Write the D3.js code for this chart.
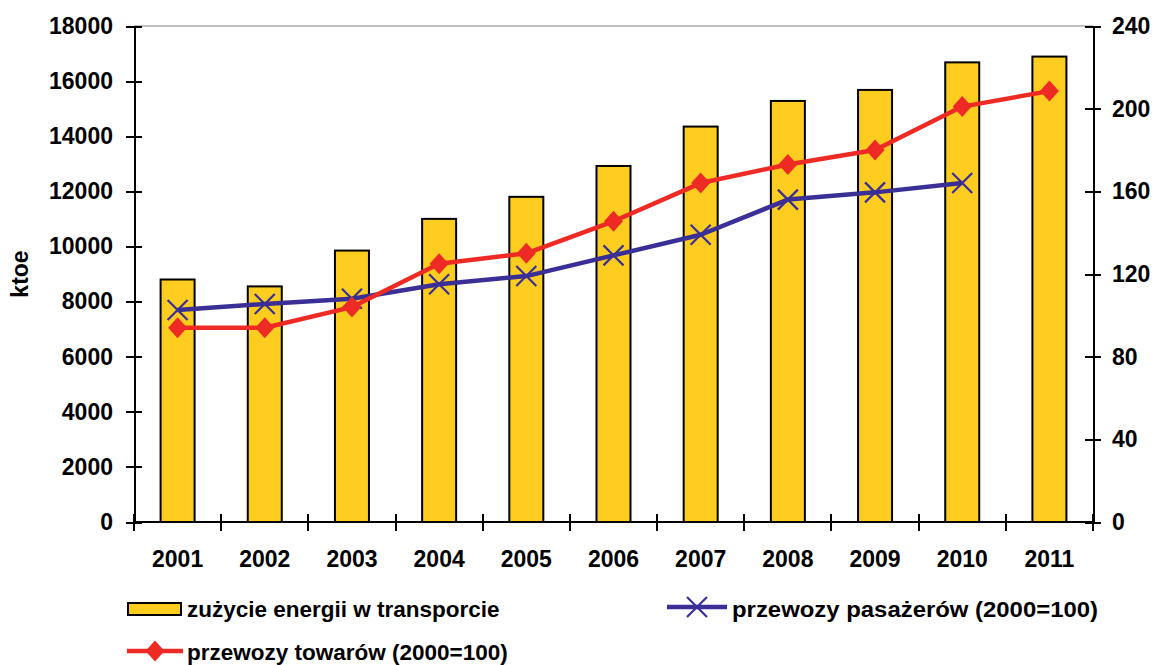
<!DOCTYPE html>
<html>
<head>
<meta charset="utf-8">
<script src="https://cdn.jsdelivr.net/npm/d3@7"></script>
<style>
  html, body { margin: 0; padding: 0; background: #fff; }
  svg { display: block; font-family: Arial, "Liberation Sans", Helvetica, sans-serif; font-weight: bold; }
  .axis path, .axis line { stroke: #000; stroke-width: 2; shape-rendering: crispEdges; }
  .axis text { fill: #000; font-size: 23px; font-weight: bold; }
</style>
</head>
<body>
<svg id="chart" width="1156" height="665"></svg>
<script>
// Years on the category axis
const years = ["2001","2002","2003","2004","2005","2006","2007","2008","2009","2010","2011"];
// Energy use in transport, ktoe (bars, left axis)
const energyUse = [8800, 8550, 9850, 11000, 11800, 12920, 14350, 15280, 15680, 16680, 16890];
// Passenger transport index, 2000 = 100 (right axis; no value for 2011)
const passengerIndex = [102.6, 105.5, 108, 115, 119, 129, 139, 156, 159.5, 164];
// Freight transport index, 2000 = 100 (right axis)
const freightIndex = [94, 94, 104, 125, 130, 145.5, 164, 173, 180, 201, 208.5];
// Tick values for both value axes
const leftTicks = [0, 2000, 4000, 6000, 8000, 10000, 12000, 14000, 16000, 18000];
const rightTicks = [0, 40, 80, 120, 160, 200, 240];

const legendLabels = {
  energy: "zużycie energii w transporcie",
  passengers: "przewozy pasażerów (2000=100)",
  freight: "przewozy towarów (2000=100)"
};
const yAxisTitle = "ktoe";

const colors = { bar: "#FFCD1F", freight: "#EE2A25", passengers: "#3A2F96" };

const svg = d3.select("#chart");
const plot = { left: 134, right: 1093, top: 26, bottom: 522 };

const x = d3.scaleBand()
  .domain(years)
  .range([plot.left, plot.right])
  .paddingInner(0.61)
  .paddingOuter(0.305);
const step = x.step();
const cx = d => x(d) + x.bandwidth() / 2;

const yL = d3.scaleLinear().domain([0, 18000]).range([plot.bottom, plot.top]);
const yR = d3.scaleLinear().domain([0, 240]).range([plot.bottom, plot.top]);

// plot-area frame top edge
svg.append("line")
  .attr("x1", plot.left).attr("x2", plot.right)
  .attr("y1", plot.top).attr("y2", plot.top)
  .attr("stroke", "#c0c0c0").attr("stroke-width", 2);

// bars
svg.append("g").selectAll("rect")
  .data(years.map((y, i) => ({ year: y, v: energyUse[i] })))
  .join("rect")
  .attr("x", d => x(d.year))
  .attr("width", x.bandwidth())
  .attr("y", d => yL(d.v))
  .attr("height", d => yL(0) - yL(d.v))
  .attr("fill", colors.bar)
  .attr("stroke", "#000")
  .attr("stroke-width", 2);

// left axis
const gL = svg.append("g").attr("class", "axis")
  .attr("transform", `translate(${plot.left},0)`)
  .call(d3.axisLeft(yL).tickValues(leftTicks).tickFormat(d3.format("d")).tickSizeOuter(0));
gL.selectAll(".tick line").attr("x1", -8).attr("x2", 8);
gL.selectAll(".tick text").attr("x", -21);

// right axis
const gR = svg.append("g").attr("class", "axis")
  .attr("transform", `translate(${plot.right},0)`)
  .call(d3.axisRight(yR).tickValues(rightTicks).tickFormat(d3.format("d")).tickSizeOuter(0));
gR.selectAll(".tick line").attr("x1", -8).attr("x2", 8);
gR.selectAll(".tick text").attr("x", 19);

// bottom axis: labels centred under each bar, tick marks between categories
const gB = svg.append("g").attr("class", "axis")
  .attr("transform", `translate(0,${plot.bottom})`)
  .call(d3.axisBottom(x).tickSize(0).tickSizeOuter(0));
gB.select(".domain").attr("d", `M${plot.left},0H${plot.right}`);
gB.selectAll(".tick text").attr("y", 29);
gB.selectAll(".sep")
  .data(d3.range(years.length + 1))
  .join("line")
  .attr("class", "sep")
  .attr("x1", i => plot.left + i * step).attr("x2", i => plot.left + i * step)
  .attr("y1", -8).attr("y2", 9)
  .attr("stroke", "#000").attr("stroke-width", 2);

// y axis title
svg.append("text")
  .attr("transform", `translate(28,${(plot.top + plot.bottom) / 2}) rotate(-90)`)
  .attr("text-anchor", "middle")
  .attr("font-size", 23)
  .text(yAxisTitle);

// line series
const line = d3.line().x(d => cx(d.year)).y(d => yR(d.v));
const passData = passengerIndex.map((v, i) => ({ year: years[i], v }));
const freightData = freightIndex.map((v, i) => ({ year: years[i], v }));

const xMarker = (g, px, py, r) => {
  g.append("path")
    .attr("d", `M${px - r},${py - r}L${px + r},${py + r}M${px - r},${py + r}L${px + r},${py - r}`)
    .attr("stroke", colors.passengers).attr("stroke-width", 2.2).attr("fill", "none");
};
const diamond = (g, px, py) => {
  g.append("path")
    .attr("d", `M${px},${py - 10.5}L${px + 9.5},${py}L${px},${py + 10.5}L${px - 9.5},${py}Z`)
    .attr("fill", colors.freight);
};

const gPass = svg.append("g");
gPass.append("path").datum(passData).attr("d", line)
  .attr("fill", "none").attr("stroke", colors.passengers).attr("stroke-width", 4.5)
  .attr("stroke-linejoin", "round");
passData.forEach(d => xMarker(gPass, cx(d.year), yR(d.v), 10));

const gFr = svg.append("g");
gFr.append("path").datum(freightData).attr("d", line)
  .attr("fill", "none").attr("stroke", colors.freight).attr("stroke-width", 4.5)
  .attr("stroke-linejoin", "round");
freightData.forEach(d => diamond(gFr, cx(d.year), yR(d.v)));

// legend
const lg = svg.append("g").attr("font-size", 22.5);
lg.append("rect").attr("x", 128).attr("y", 603).attr("width", 53).attr("height", 12)
  .attr("fill", colors.bar).attr("stroke", "#000").attr("stroke-width", 2);
lg.append("text").attr("x", 187).attr("y", 617).text(legendLabels.energy);

lg.append("line").attr("x1", 667).attr("x2", 727).attr("y1", 607).attr("y2", 607)
  .attr("stroke", colors.passengers).attr("stroke-width", 4.5);
xMarker(lg, 697, 607, 10);
lg.append("text").attr("x", 732).attr("y", 617)
  .attr("textLength", 366).attr("lengthAdjust", "spacingAndGlyphs")
  .text(legendLabels.passengers);

lg.append("line").attr("x1", 127).attr("x2", 183).attr("y1", 651).attr("y2", 651)
  .attr("stroke", colors.freight).attr("stroke-width", 4.5);
diamond(lg, 155, 651);
lg.append("text").attr("x", 187).attr("y", 660).text(legendLabels.freight);
</script>
</body>
</html>
